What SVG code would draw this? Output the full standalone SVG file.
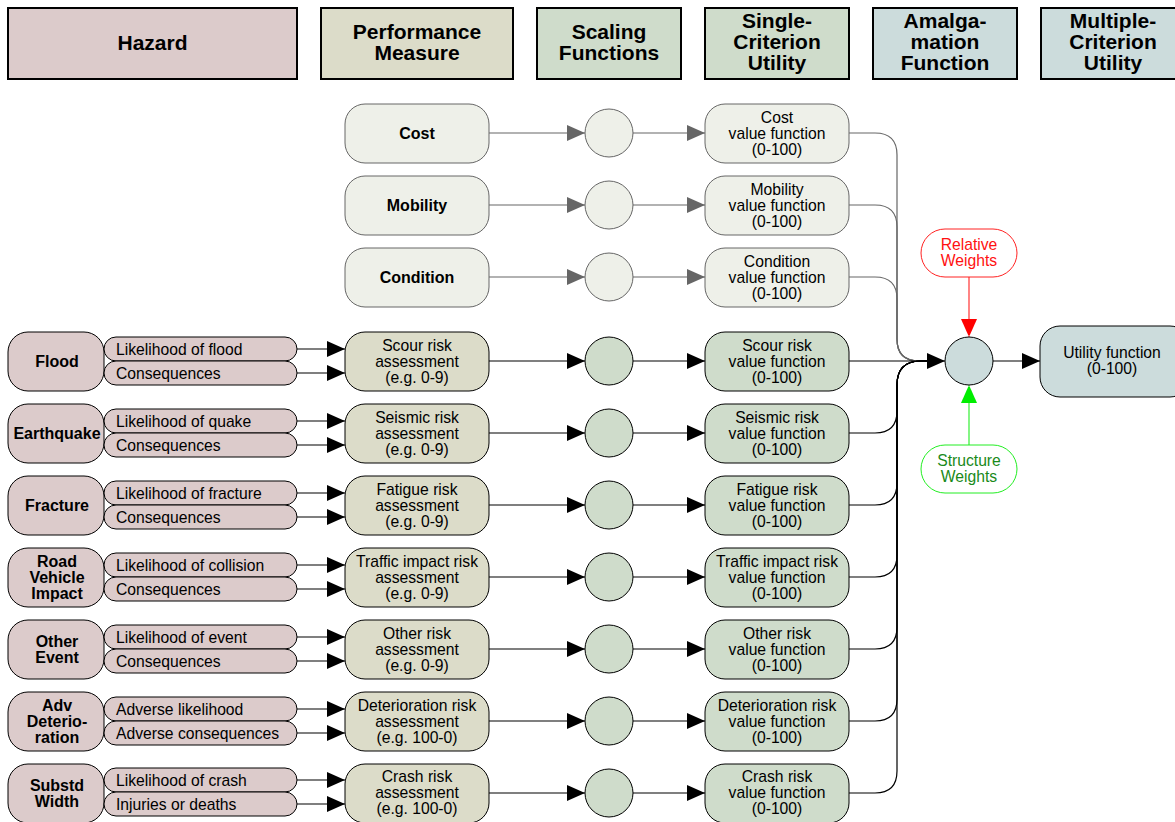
<svg xmlns="http://www.w3.org/2000/svg" width="1175" height="822" viewBox="0 0 1175 822">
<style>
text{font-family:"Liberation Sans",Arial,sans-serif;fill:#000;}
.hd{font-size:21px;font-weight:bold;text-anchor:middle;dominant-baseline:central;}
.b{font-size:16px;font-weight:bold;text-anchor:middle;dominant-baseline:central;}
.t{font-size:15.7px;text-anchor:middle;dominant-baseline:central;}
.tl{font-size:15.7px;text-anchor:start;dominant-baseline:central;}
.hz{fill:#dccbcb;stroke:#000;stroke-width:1;}
.pm{fill:#dcdcc9;stroke:#000;stroke-width:1;}
.sc{fill:#cfdccb;stroke:#000;stroke-width:1;}
.am{fill:#ccdcdc;stroke:#000;stroke-width:1;}
.lt{fill:#eef0e9;stroke:#666;stroke-width:1;}
.hbox{stroke:#000;stroke-width:2;}
.c{fill:none;stroke:#000;stroke-width:1.2;}
.cg{fill:none;stroke:#666;stroke-width:1.2;}
</style>
<defs>
<marker id="ab" markerUnits="userSpaceOnUse" markerWidth="18" markerHeight="16" refX="18" refY="8" orient="auto"><path d="M0,0 L18,8 L0,16 z" fill="#000"/></marker>
<marker id="ag" markerUnits="userSpaceOnUse" markerWidth="18" markerHeight="16" refX="18" refY="8" orient="auto"><path d="M0,0 L18,8 L0,16 z" fill="#666"/></marker>
<marker id="ar" markerUnits="userSpaceOnUse" markerWidth="16" markerHeight="18" refX="18" refY="8" orient="auto"><path d="M0,0 L18,8 L0,16 z" fill="#ff0000"/></marker>
<marker id="agr" markerUnits="userSpaceOnUse" markerWidth="16" markerHeight="18" refX="18" refY="8" orient="auto"><path d="M0,0 L18,8 L0,16 z" fill="#00ee00"/></marker>
</defs>

<g id="headers">
<g id="h-hazard"><rect class="hz hbox" x="8" y="8" width="289" height="71"/><text class="hd" x="152.5" y="42">Hazard</text></g>
<g id="h-perf"><rect class="pm hbox" x="321" y="8" width="192" height="71"/><text class="hd" x="417" y="31.5">Performance</text><text class="hd" x="417" y="52.5">Measure</text></g>
<g id="h-scal"><rect class="sc hbox" x="537" y="8" width="144" height="71"/><text class="hd" x="609" y="31.5">Scaling</text><text class="hd" x="609" y="52.5">Functions</text></g>
<g id="h-single"><rect class="sc hbox" x="705" y="8" width="144" height="71"/><text class="hd" x="777" y="20.5">Single-</text><text class="hd" x="777" y="41.5">Criterion</text><text class="hd" x="777" y="62.5">Utility</text></g>
<g id="h-amal"><rect class="am hbox" x="873" y="8" width="144" height="71"/><text class="hd" x="945" y="20.5">Amalga-</text><text class="hd" x="945" y="41.5">mation</text><text class="hd" x="945" y="62.5">Function</text></g>
<g id="h-multi"><rect class="am hbox" x="1041" y="8" width="144" height="71"/><text class="hd" x="1113" y="20.5">Multiple-</text><text class="hd" x="1113" y="41.5">Criterion</text><text class="hd" x="1113" y="62.5">Utility</text></g>
</g>

<g id="connectors">
<path class="cg" d="M489,133 H585" marker-end="url(#ag)"/>
<path class="cg" d="M633,133 H705" marker-end="url(#ag)"/>
<path class="cg" d="M489,205 H585" marker-end="url(#ag)"/>
<path class="cg" d="M633,205 H705" marker-end="url(#ag)"/>
<path class="cg" d="M489,277 H585" marker-end="url(#ag)"/>
<path class="cg" d="M633,277 H705" marker-end="url(#ag)"/>
<path class="cg" d="M849,133 H875 Q897,133 897,155 V339 Q897,361 919,361 H930"/>
<path class="cg" d="M849,205 H875 Q897,205 897,227 V339 Q897,361 919,361 H930"/>
<path class="cg" d="M849,277 H875 Q897,277 897,299 V339 Q897,361 919,361 H930"/>
<path class="c" d="M297,349 H345" marker-end="url(#ab)"/><path class="c" d="M297,373 H345" marker-end="url(#ab)"/>
<path class="c" d="M489,361 H585" marker-end="url(#ab)"/><path class="c" d="M633,361 H705" marker-end="url(#ab)"/>
<path class="c" d="M297,421 H345" marker-end="url(#ab)"/><path class="c" d="M297,445 H345" marker-end="url(#ab)"/>
<path class="c" d="M489,433 H585" marker-end="url(#ab)"/><path class="c" d="M633,433 H705" marker-end="url(#ab)"/>
<path class="c" d="M297,493 H345" marker-end="url(#ab)"/><path class="c" d="M297,517 H345" marker-end="url(#ab)"/>
<path class="c" d="M489,505 H585" marker-end="url(#ab)"/><path class="c" d="M633,505 H705" marker-end="url(#ab)"/>
<path class="c" d="M297,565 H345" marker-end="url(#ab)"/><path class="c" d="M297,589 H345" marker-end="url(#ab)"/>
<path class="c" d="M489,577 H585" marker-end="url(#ab)"/><path class="c" d="M633,577 H705" marker-end="url(#ab)"/>
<path class="c" d="M297,637 H345" marker-end="url(#ab)"/><path class="c" d="M297,661 H345" marker-end="url(#ab)"/>
<path class="c" d="M489,649 H585" marker-end="url(#ab)"/><path class="c" d="M633,649 H705" marker-end="url(#ab)"/>
<path class="c" d="M297,709 H345" marker-end="url(#ab)"/><path class="c" d="M297,733 H345" marker-end="url(#ab)"/>
<path class="c" d="M489,721 H585" marker-end="url(#ab)"/><path class="c" d="M633,721 H705" marker-end="url(#ab)"/>
<path class="c" d="M297,780 H345" marker-end="url(#ab)"/><path class="c" d="M297,804 H345" marker-end="url(#ab)"/>
<path class="c" d="M489,793 H585" marker-end="url(#ab)"/><path class="c" d="M633,793 H705" marker-end="url(#ab)"/>
<path class="c" d="M849,361 H945" marker-end="url(#ab)"/>
<path class="c" d="M849,433 H875 Q897,433 897,411 V385 Q897,361 921,361 H930"/>
<path class="c" d="M849,505 H875 Q897,505 897,483 V385 Q897,361 921,361 H930"/>
<path class="c" d="M849,577 H875 Q897,577 897,555 V385 Q897,361 921,361 H930"/>
<path class="c" d="M849,649 H875 Q897,649 897,627 V385 Q897,361 921,361 H930"/>
<path class="c" d="M849,721 H875 Q897,721 897,699 V385 Q897,361 921,361 H930"/>
<path class="c" d="M849,793 H875 Q897,793 897,771 V385 Q897,361 921,361 H930"/>
<path class="c" d="M993,361 H1040" marker-end="url(#ab)"/>
<path fill="none" stroke="#ff3333" stroke-width="1.2" d="M969,277 V337" marker-end="url(#ar)"/>
<path fill="none" stroke="#33ee33" stroke-width="1.2" d="M969,445 V385" marker-end="url(#agr)"/>
</g>

<g id="cost"><rect class="lt" x="345" y="104" width="144" height="59" rx="20"/><text class="b" x="417" y="133">Cost</text></g>
<g id="mobility"><rect class="lt" x="345" y="176" width="144" height="59" rx="20"/><text class="b" x="417" y="205">Mobility</text></g>
<g id="condition"><rect class="lt" x="345" y="248" width="144" height="59" rx="20"/><text class="b" x="417" y="277">Condition</text></g>
<g id="sc-cost"><circle class="lt" cx="609" cy="133" r="24"/></g>
<g id="sc-mobility"><circle class="lt" cx="609" cy="205" r="24"/></g>
<g id="sc-condition"><circle class="lt" cx="609" cy="277" r="24"/></g>
<g id="vf-cost"><rect class="lt" x="705" y="104" width="144" height="59" rx="20"/><text class="t" x="777" y="117">Cost</text><text class="t" x="777" y="133">value function</text><text class="t" x="777" y="149">(0-100)</text></g>
<g id="vf-mobility"><rect class="lt" x="705" y="176" width="144" height="59" rx="20"/><text class="t" x="777" y="189">Mobility</text><text class="t" x="777" y="205">value function</text><text class="t" x="777" y="221">(0-100)</text></g>
<g id="vf-condition"><rect class="lt" x="705" y="248" width="144" height="59" rx="20"/><text class="t" x="777" y="261">Condition</text><text class="t" x="777" y="277">value function</text><text class="t" x="777" y="293">(0-100)</text></g>

<g id="flood"><rect class="hz" x="8" y="332" width="96" height="59" rx="20"/><text class="b" x="57" y="361">Flood</text></g>
<g id="flood-l"><rect class="hz" x="104" y="337" width="193" height="24" rx="12"/><text class="tl" x="116" y="349">Likelihood of flood</text></g>
<g id="flood-c"><rect class="hz" x="104" y="361" width="193" height="24" rx="12"/><text class="tl" x="116" y="373">Consequences</text></g>
<g id="pm-scour"><rect class="pm" x="345" y="332" width="144" height="59" rx="20"/><text class="t" x="417" y="345">Scour risk</text><text class="t" x="417" y="361">assessment</text><text class="t" x="417" y="377">(e.g. 0-9)</text></g>
<g id="sc-scour"><circle class="sc" cx="609" cy="361" r="24"/></g>
<g id="vf-scour"><rect class="sc" x="705" y="332" width="144" height="59" rx="20"/><text class="t" x="777" y="345">Scour risk</text><text class="t" x="777" y="361">value function</text><text class="t" x="777" y="377">(0-100)</text></g>

<g id="quake"><rect class="hz" x="8" y="404" width="96" height="59" rx="20"/><text class="b" x="57" y="433">Earthquake</text></g>
<g id="quake-l"><rect class="hz" x="104" y="409" width="193" height="24" rx="12"/><text class="tl" x="116" y="421">Likelihood of quake</text></g>
<g id="quake-c"><rect class="hz" x="104" y="433" width="193" height="24" rx="12"/><text class="tl" x="116" y="445">Consequences</text></g>
<g id="pm-seismic"><rect class="pm" x="345" y="404" width="144" height="59" rx="20"/><text class="t" x="417" y="417">Seismic risk</text><text class="t" x="417" y="433">assessment</text><text class="t" x="417" y="449">(e.g. 0-9)</text></g>
<g id="sc-seismic"><circle class="sc" cx="609" cy="433" r="24"/></g>
<g id="vf-seismic"><rect class="sc" x="705" y="404" width="144" height="59" rx="20"/><text class="t" x="777" y="417">Seismic risk</text><text class="t" x="777" y="433">value function</text><text class="t" x="777" y="449">(0-100)</text></g>

<g id="fracture"><rect class="hz" x="8" y="476" width="96" height="59" rx="20"/><text class="b" x="57" y="505">Fracture</text></g>
<g id="fracture-l"><rect class="hz" x="104" y="481" width="193" height="24" rx="12"/><text class="tl" x="116" y="493">Likelihood of fracture</text></g>
<g id="fracture-c"><rect class="hz" x="104" y="505" width="193" height="24" rx="12"/><text class="tl" x="116" y="517">Consequences</text></g>
<g id="pm-fatigue"><rect class="pm" x="345" y="476" width="144" height="59" rx="20"/><text class="t" x="417" y="489">Fatigue risk</text><text class="t" x="417" y="505">assessment</text><text class="t" x="417" y="521">(e.g. 0-9)</text></g>
<g id="sc-fatigue"><circle class="sc" cx="609" cy="505" r="24"/></g>
<g id="vf-fatigue"><rect class="sc" x="705" y="476" width="144" height="59" rx="20"/><text class="t" x="777" y="489">Fatigue risk</text><text class="t" x="777" y="505">value function</text><text class="t" x="777" y="521">(0-100)</text></g>

<g id="road"><rect class="hz" x="8" y="548" width="96" height="59" rx="20"/><text class="b" x="57" y="561">Road</text><text class="b" x="57" y="577">Vehicle</text><text class="b" x="57" y="593">Impact</text></g>
<g id="road-l"><rect class="hz" x="104" y="553" width="193" height="24" rx="12"/><text class="tl" x="116" y="565">Likelihood of collision</text></g>
<g id="road-c"><rect class="hz" x="104" y="577" width="193" height="24" rx="12"/><text class="tl" x="116" y="589">Consequences</text></g>
<g id="pm-traffic"><rect class="pm" x="345" y="548" width="144" height="59" rx="20"/><text class="t" x="417" y="561">Traffic impact risk</text><text class="t" x="417" y="577">assessment</text><text class="t" x="417" y="593">(e.g. 0-9)</text></g>
<g id="sc-traffic"><circle class="sc" cx="609" cy="577" r="24"/></g>
<g id="vf-traffic"><rect class="sc" x="705" y="548" width="144" height="59" rx="20"/><text class="t" x="777" y="561">Traffic impact risk</text><text class="t" x="777" y="577">value function</text><text class="t" x="777" y="593">(0-100)</text></g>

<g id="other"><rect class="hz" x="8" y="620" width="96" height="59" rx="20"/><text class="b" x="57" y="641">Other</text><text class="b" x="57" y="657">Event</text></g>
<g id="other-l"><rect class="hz" x="104" y="625" width="193" height="24" rx="12"/><text class="tl" x="116" y="637">Likelihood of event</text></g>
<g id="other-c"><rect class="hz" x="104" y="649" width="193" height="24" rx="12"/><text class="tl" x="116" y="661">Consequences</text></g>
<g id="pm-other"><rect class="pm" x="345" y="620" width="144" height="59" rx="20"/><text class="t" x="417" y="633">Other risk</text><text class="t" x="417" y="649">assessment</text><text class="t" x="417" y="665">(e.g. 0-9)</text></g>
<g id="sc-other"><circle class="sc" cx="609" cy="649" r="24"/></g>
<g id="vf-other"><rect class="sc" x="705" y="620" width="144" height="59" rx="20"/><text class="t" x="777" y="633">Other risk</text><text class="t" x="777" y="649">value function</text><text class="t" x="777" y="665">(0-100)</text></g>

<g id="adv"><rect class="hz" x="8" y="692" width="96" height="59" rx="20"/><text class="b" x="57" y="705">Adv</text><text class="b" x="57" y="721">Deterio-</text><text class="b" x="57" y="737">ration</text></g>
<g id="adv-l"><rect class="hz" x="104" y="697" width="193" height="24" rx="12"/><text class="tl" x="116" y="709">Adverse likelihood</text></g>
<g id="adv-c"><rect class="hz" x="104" y="721" width="193" height="24" rx="12"/><text class="tl" x="116" y="733">Adverse consequences</text></g>
<g id="pm-det"><rect class="pm" x="345" y="692" width="144" height="59" rx="20"/><text class="t" x="417" y="705">Deterioration risk</text><text class="t" x="417" y="721">assessment</text><text class="t" x="417" y="737">(e.g. 100-0)</text></g>
<g id="sc-det"><circle class="sc" cx="609" cy="721" r="24"/></g>
<g id="vf-det"><rect class="sc" x="705" y="692" width="144" height="59" rx="20"/><text class="t" x="777" y="705">Deterioration risk</text><text class="t" x="777" y="721">value function</text><text class="t" x="777" y="737">(0-100)</text></g>

<g id="substd"><rect class="hz" x="8" y="764" width="96" height="59" rx="20"/><text class="b" x="57" y="785">Substd</text><text class="b" x="57" y="801">Width</text></g>
<g id="substd-l"><rect class="hz" x="104" y="768" width="193" height="24" rx="12"/><text class="tl" x="116" y="780">Likelihood of crash</text></g>
<g id="substd-c"><rect class="hz" x="104" y="792" width="193" height="24" rx="12"/><text class="tl" x="116" y="804">Injuries or deaths</text></g>
<g id="pm-crash"><rect class="pm" x="345" y="764" width="144" height="59" rx="20"/><text class="t" x="417" y="776">Crash risk</text><text class="t" x="417" y="792">assessment</text><text class="t" x="417" y="808">(e.g. 100-0)</text></g>
<g id="sc-crash"><circle class="sc" cx="609" cy="793" r="24"/></g>
<g id="vf-crash"><rect class="sc" x="705" y="764" width="144" height="59" rx="20"/><text class="t" x="777" y="776">Crash risk</text><text class="t" x="777" y="792">value function</text><text class="t" x="777" y="808">(0-100)</text></g>

<g id="amalgamation"><circle class="am" cx="969" cy="361" r="24"/></g>
<g id="relative"><rect x="921" y="229" width="96" height="48" rx="24" fill="#fff" stroke="#ff2222" stroke-width="1"/><text class="t" x="969" y="244" style="fill:#ff1111">Relative</text><text class="t" x="969" y="260" style="fill:#ff1111">Weights</text></g>
<g id="structure"><rect x="921" y="445" width="96" height="48" rx="24" fill="#fff" stroke="#22ee22" stroke-width="1"/><text class="t" x="969" y="460" style="fill:#1a8a1a">Structure</text><text class="t" x="969" y="476" style="fill:#1a8a1a">Weights</text></g>
<g id="utility"><rect class="am" x="1040" y="326" width="150" height="71" rx="20"/><text class="t" x="1112" y="352">Utility function</text><text class="t" x="1112" y="368">(0-100)</text></g>
</svg>
